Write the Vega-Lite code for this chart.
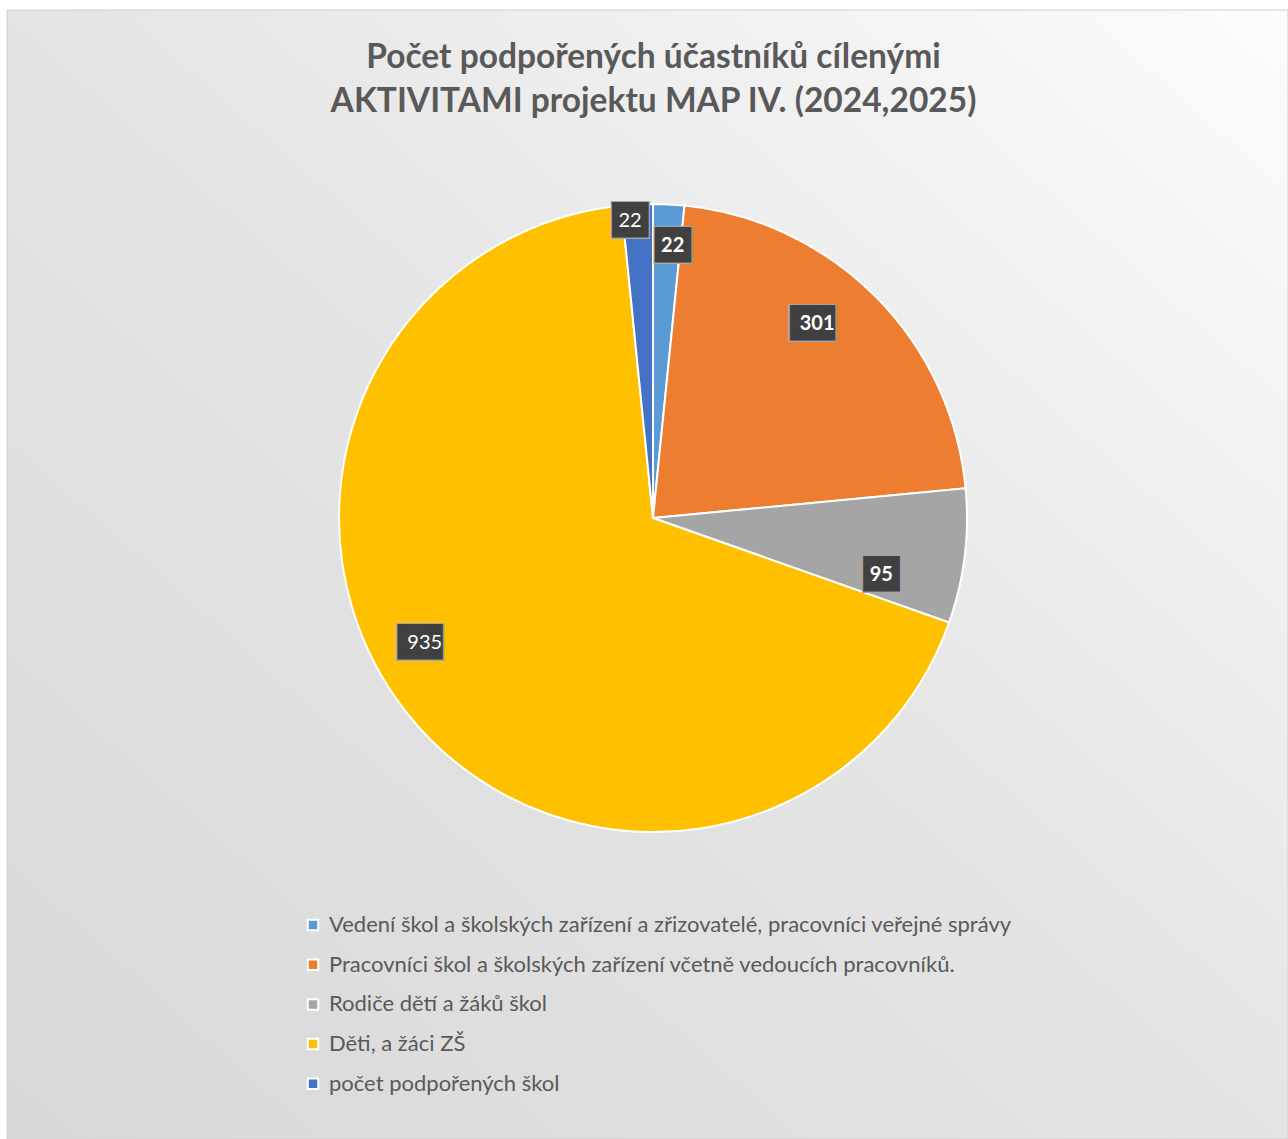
{
  "$schema": "https://vega.github.io/schema/vega-lite/v6.json",
  "width": 1281,
  "height": 1129,
  "autosize": {"type": "none"},
  "padding": {"left": 7, "top": 10, "right": 0, "bottom": 0},
  "background": "white",
  "config": {"view": {"stroke": null}},
  "title": {
    "text": ["Počet podpořených účastníků cílenými", "AKTIVITAMI projektu MAP IV. (2024,2025)"],
    "font": "Lato",
    "fontSize": 33.5,
    "fontWeight": "bold",
    "color": "#595959",
    "anchor": "middle",
    "frame": "group",
    "baseline": "alphabetic",
    "offset": -136,
    "lineHeight": 44,
    "dx": 6
  },
  "layer": [
    {
      "data": {"values": [{"bg": 1}]},
      "mark": {
        "type": "rect",
        "stroke": "#d0d0d0",
        "strokeWidth": 1,
        "x2Offset": 10,
        "y2Offset": 10,
        "fill": {
          "gradient": "linear",
          "x1": 0, "y1": 1, "x2": 1, "y2": 0,
          "stops": [
            {"offset": 0, "color": "#d8d8d8"},
            {"offset": 0.5, "color": "#e4e4e4"},
            {"offset": 1, "color": "#fcfcfc"}
          ]
        }
      },
      "encoding": {}
    },
    {
      "data": {
        "values": [
          {"group": "Vedení škol a školských zařízení a zřizovatelé, pracovníci veřejné správy", "value": 22},
          {"group": "Pracovníci škol a školských zařízení včetně vedoucích pracovníků.", "value": 301},
          {"group": "Rodiče dětí a žáků škol", "value": 95},
          {"group": "Děti, a žáci ZŠ", "value": 935},
          {"group": "počet podpořených škol", "value": 22}
        ]
      },
      "transform": [{"window": [{"op": "row_number", "as": "idx"}]}],
      "encoding": {
        "theta": {"field": "value", "type": "quantitative", "stack": true},
        "order": {"field": "idx", "type": "quantitative"},
        "detail": {"field": "group", "type": "nominal"},
        "x": {"value": 646},
        "y": {"value": 508}
      },
      "layer": [
        {
          "mark": {"type": "arc", "outerRadius": 314, "stroke": "white", "strokeWidth": 2},
          "encoding": {
            "color": {
              "field": "group",
              "type": "nominal",
              "scale": {
                "domain": [
                  "Vedení škol a školských zařízení a zřizovatelé, pracovníci veřejné správy",
                  "Pracovníci škol a školských zařízení včetně vedoucích pracovníků.",
                  "Rodiče dětí a žáků škol",
                  "Děti, a žáci ZŠ",
                  "počet podpořených škol"
                ],
                "range": ["#5B9BD5", "#ED7D31", "#A5A5A5", "#FFC000", "#4472C4"]
              },
              "legend": {
                "orient": "none",
                "legendX": 295,
                "legendY": 904,
                "title": null,
                "symbolType": "square",
                "symbolSize": 110,
                "symbolStrokeColor": "white",
                "symbolStrokeWidth": 2,
                "labelFont": "Lato",
                "labelFontSize": 22,
                "labelColor": "#595959",
                "labelLimit": 1000,
                "labelOffset": 5,
                "rowPadding": 17.7
              }
            }
          }
        },
        {"mark": {"type": "text", "font": "DejaVu Sans Mono", "fontSize": 32, "fill": "#a6a6a6", "radius": 273, "dx": 6, "dy": 1, "align": "center", "baseline": "middle"},
         "encoding": {"text": {"condition": {"test": "datum.idx === 1", "value": "██"}, "value": ""}}},
        {"mark": {"type": "text", "font": "DejaVu Sans Mono", "fontSize": 30, "fill": "#404040", "radius": 273, "dx": 6, "dy": 1, "align": "center", "baseline": "middle"},
         "encoding": {"text": {"condition": {"test": "datum.idx === 1", "value": "██"}, "value": ""}}},
        {"mark": {"type": "text", "font": "Lato", "fontSize": 20, "fontWeight": "bold", "fill": "white", "radius": 273, "dx": 6, "dy": 1, "align": "center", "baseline": "middle"},
         "encoding": {"text": {"condition": {"test": "datum.idx === 1", "field": "value"}, "value": ""}}},

        {"mark": {"type": "text", "font": "DejaVu Sans Mono", "fontSize": 32, "fill": "#a6a6a6", "radius": 254, "dx": -16, "dy": -15, "align": "center", "baseline": "middle"},
         "encoding": {"text": {"condition": {"test": "datum.idx === 2", "value": "██▌"}, "value": ""}}},
        {"mark": {"type": "text", "font": "DejaVu Sans Mono", "fontSize": 30, "fill": "#404040", "radius": 254, "dx": -16, "dy": -15, "align": "center", "baseline": "middle"},
         "encoding": {"text": {"condition": {"test": "datum.idx === 2", "value": "██▌"}, "value": ""}}},
        {"mark": {"type": "text", "font": "Lato", "fontSize": 20, "fontWeight": "bold", "fill": "white", "radius": 254, "dx": -16, "dy": -15, "align": "center", "baseline": "middle"},
         "encoding": {"text": {"condition": {"test": "datum.idx === 2", "field": "value"}, "value": ""}}},

        {"mark": {"type": "text", "font": "DejaVu Sans Mono", "fontSize": 32, "fill": "#a6a6a6", "radius": 233, "dx": -3, "dy": 29, "align": "center", "baseline": "middle"},
         "encoding": {"text": {"condition": {"test": "datum.idx === 3", "value": "██"}, "value": ""}}},
        {"mark": {"type": "text", "font": "DejaVu Sans Mono", "fontSize": 30, "fill": "#404040", "radius": 233, "dx": -3, "dy": 29, "align": "center", "baseline": "middle"},
         "encoding": {"text": {"condition": {"test": "datum.idx === 3", "value": "██"}, "value": ""}}},
        {"mark": {"type": "text", "font": "Lato", "fontSize": 20, "fontWeight": "bold", "fill": "white", "radius": 233, "dx": -3, "dy": 29, "align": "center", "baseline": "middle"},
         "encoding": {"text": {"condition": {"test": "datum.idx === 3", "field": "value"}, "value": ""}}},

        {"mark": {"type": "text", "font": "DejaVu Sans Mono", "fontSize": 32, "fill": "#a6a6a6", "radius": 256, "dx": -27, "dy": -33, "align": "center", "baseline": "middle"},
         "encoding": {"text": {"condition": {"test": "datum.idx === 4", "value": "██▌"}, "value": ""}}},
        {"mark": {"type": "text", "font": "DejaVu Sans Mono", "fontSize": 30, "fill": "#404040", "radius": 256, "dx": -27, "dy": -33, "align": "center", "baseline": "middle"},
         "encoding": {"text": {"condition": {"test": "datum.idx === 4", "value": "██▌"}, "value": ""}}},
        {"mark": {"type": "text", "font": "Lato", "fontSize": 20, "fontWeight": "normal", "fill": "white", "radius": 256, "dx": -27, "dy": -33, "align": "center", "baseline": "middle"},
         "encoding": {"text": {"condition": {"test": "datum.idx === 4", "field": "value"}, "value": ""}}},

        {"mark": {"type": "text", "font": "DejaVu Sans Mono", "fontSize": 32, "fill": "#a6a6a6", "radius": 298, "dx": -8, "dy": 1, "align": "center", "baseline": "middle"},
         "encoding": {"text": {"condition": {"test": "datum.idx === 5", "value": "██"}, "value": ""}}},
        {"mark": {"type": "text", "font": "DejaVu Sans Mono", "fontSize": 30, "fill": "#404040", "radius": 298, "dx": -8, "dy": 1, "align": "center", "baseline": "middle"},
         "encoding": {"text": {"condition": {"test": "datum.idx === 5", "value": "██"}, "value": ""}}},
        {"mark": {"type": "text", "font": "Lato", "fontSize": 20, "fontWeight": "normal", "fill": "white", "radius": 298, "dx": -8, "dy": 1, "align": "center", "baseline": "middle"},
         "encoding": {"text": {"condition": {"test": "datum.idx === 5", "field": "value"}, "value": ""}}}
      ]
    }
  ]
}
